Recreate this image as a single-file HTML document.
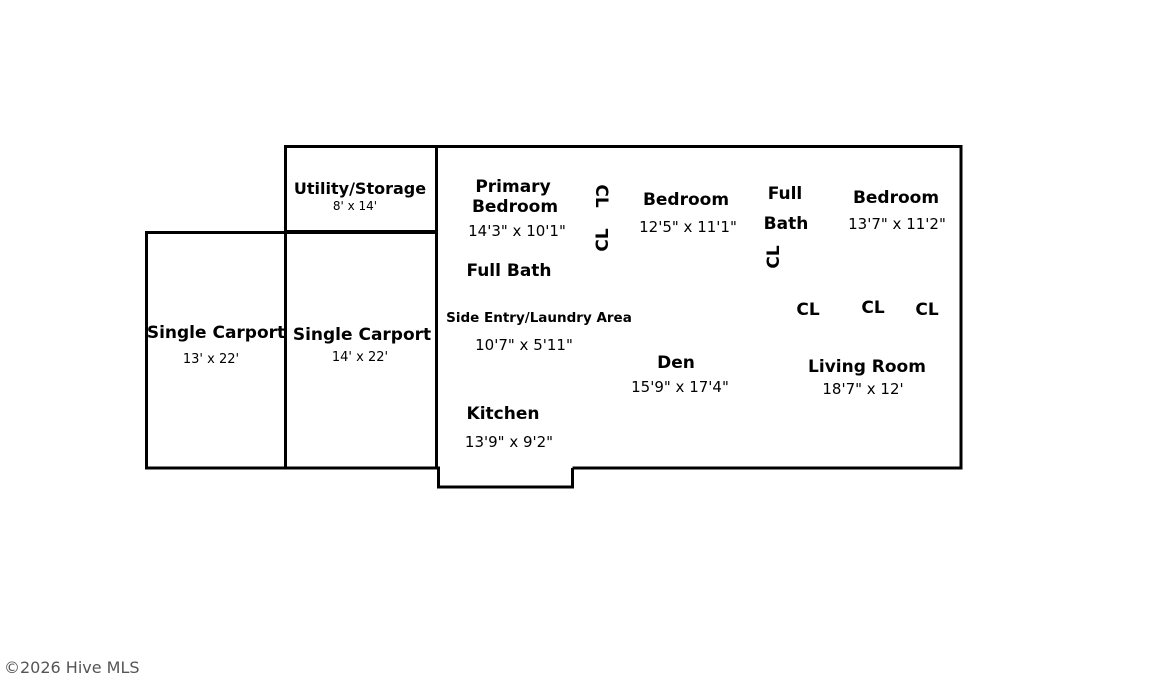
<!DOCTYPE html>
<html><head><meta charset="utf-8"><style>
html,body{margin:0;padding:0;background:#fff;width:1152px;height:698px;overflow:hidden}
svg{display:block}
text{font-family:"DejaVu Sans","Liberation Sans",sans-serif;fill:#000}
.b{font-weight:bold;font-size:17px}
.d{font-size:15px}
.s{font-size:13px}
</style></head><body>
<svg width="1152" height="698" xmlns="http://www.w3.org/2000/svg">
<g fill="none" stroke="#000" stroke-width="3">
<polyline points="572.5,468 961,468 961,146.5 436.5,146.5 436.5,468 438.5,468 438.5,487 572.5,487 572.5,468"/>
<rect x="285.5" y="146.5" width="151" height="85"/>
<rect x="146.5" y="232.5" width="139" height="235.5"/>
<rect x="285.5" y="232.5" width="151" height="235.5"/>
</g>
<g text-anchor="middle">
<text class="b" x="360" y="194" style="font-size:16px">Utility/Storage</text>
<text class="s" x="355" y="210" style="font-size:12px">8'  x 14'</text>
<text class="b" x="513" y="192">Primary</text>
<text class="b" x="515" y="212">Bedroom</text>
<text class="d" x="517" y="236">14'3" x 10'1"</text>
<text class="b" x="509" y="276">Full Bath</text>
<text class="b" x="539" y="322" style="font-size:13.5px">Side Entry/Laundry Area</text>
<text class="d" x="524" y="350">10'7" x 5'11"</text>
<text class="b" x="503" y="419">Kitchen</text>
<text class="d" x="509" y="447">13'9" x 9'2"</text>
<text class="b" x="686" y="205">Bedroom</text>
<text class="d" x="688" y="232">12'5" x 11'1"</text>
<text class="b" x="785" y="199">Full</text>
<text class="b" x="786" y="229">Bath</text>
<text class="b" x="896" y="203">Bedroom</text>
<text class="d" x="897" y="229">13'7" x 11'2"</text>
<text class="b" x="808" y="315">CL</text>
<text class="b" x="873" y="313">CL</text>
<text class="b" x="927" y="315">CL</text>
<text class="b" x="676" y="368">Den</text>
<text class="d" x="680" y="392">15'9" x 17'4"</text>
<text class="b" x="867" y="372">Living Room</text>
<text class="d" x="863" y="394">18'7" x 12'</text>
<text class="b" x="216" y="338">Single Carport</text>
<text class="s" x="211" y="363">13' x 22'</text>
<text class="b" x="362" y="340">Single Carport</text>
<text class="s" x="360" y="361">14' x 22'</text>
<text class="b" transform="translate(596,196) rotate(90)">CL</text>
<text class="b" transform="translate(608,240) rotate(-90)">CL</text>
<text class="b" transform="translate(779,257) rotate(-90)">CL</text>
</g>
<text x="4" y="673" style="font-size:16px;fill:#555">©2026 Hive MLS</text>
</svg>
</body></html>
